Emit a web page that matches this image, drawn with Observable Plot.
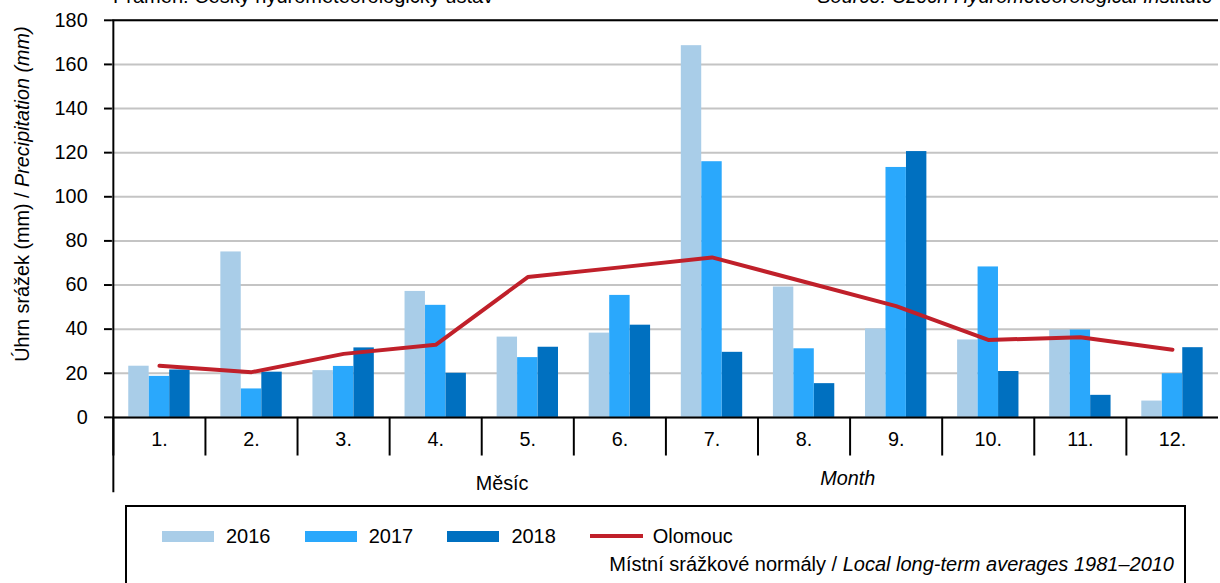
<!DOCTYPE html>
<html>
<head>
<meta charset="utf-8">
<script src="https://cdn.jsdelivr.net/npm/d3@7"></script>
<script src="https://cdn.jsdelivr.net/npm/@observablehq/plot@0.6"></script>
<style>
  html, body { margin: 0; padding: 0; background: #fff; overflow: hidden; }
  #wrap { position: relative; width: 1220px; height: 583px; overflow: hidden; font-family: "Liberation Sans", Arial, sans-serif; color: #000; }
  #chart { position: absolute; left: 0; top: 0; }
  .src { position: absolute; top: -16px; font-size: 20px; line-height: 24px; white-space: nowrap; }
  #legend { position: absolute; left: 125px; top: 505px; width: 1061px; height: 100px; border: 2px solid #000; box-sizing: border-box; font-size: 20px; }
  #legend .row1 { position: absolute; left: 35px; top: 17px; display: flex; align-items: center; height: 24px; }
  #legend .item { width: 142.7px; display: flex; align-items: center; }
  #legend .sw { width: 52px; height: 11px; margin-right: 12px; }
  #legend .ln { width: 55px; height: 4px; margin-right: 10px; }
  #legend .row2 { position: absolute; right: 10px; top: 46px; white-space: nowrap; }
</style>
</head>
<body>
<div id="wrap">
  <div id="chart"></div>
  <div class="src" style="left:113px;">Pramen: Český hydrometeorologický ústav</div>
  <div class="src" style="right:7px;font-style:italic;">Source: Czech Hydrometeorological Institute</div>
  <div id="legend"></div>
</div>
<script>
// ---- data ----
const months = ["1.", "2.", "3.", "4.", "5.", "6.", "7.", "8.", "9.", "10.", "11.", "12."];
const years = ["2016", "2017", "2018"];
const p2016 = [23.2, 75.0, 21.2, 57.1, 36.4, 38.2, 168.5, 59.1, 40.1, 35.1, 39.6, 7.4];
const p2017 = [18.6, 12.9, 23.1, 50.8, 27.1, 55.3, 115.9, 31.1, 113.3, 68.2, 39.6, 19.8];
const p2018 = [21.5, 20.5, 31.5, 20.0, 31.8, 41.8, 29.5, 15.3, 120.5, 20.8, 10.0, 31.6];
const normalOlomouc = [23.4, 20.5, 28.8, 32.9, 63.6, 68.0, 72.5, 61.5, 50.4, 35.1, 36.3, 30.7];
const yTicks = [0, 20, 40, 60, 80, 100, 120, 140, 160, 180];
const yearColors = ["#a9cde8", "#2aa8fc", "#0070c0"];
const normalColor = "#c0202a";
const normalLabel = "Olomouc";

// ---- tidy tables ----
const series = [p2016, p2017, p2018];
const bars = [];
years.forEach((yr, k) => months.forEach((m, i) => bars.push({month: m, year: yr, value: series[k][i]})));
const normals = months.map((m, i) => ({month: m, value: normalOlomouc[i]}));

// ---- layout ----
const W = 1232, H = 505, mL = 113, mR = 2, mT = 20, mB = 84;
const step = (W - mL - mR) / months.length;
const barW = step * 2 / 9;
const inset = (step - barW) / 2;
const frameH = H - mT - mB;

const marks = [
  Plot.gridY({ticks: yTicks, stroke: "#c4c4c4", strokeOpacity: 1, strokeWidth: 2}),
  ...years.map((yr, k) => Plot.barY(bars.filter(d => d.year === yr), {
    x: "month", y: "value", fill: yearColors[k],
    insetLeft: inset, insetRight: inset, dx: (k - 1) * barW
  })),
  Plot.line(normals, {x: "month", y: "value", stroke: normalColor, strokeWidth: 4, strokeLinejoin: "round"}),
  Plot.ruleY([180], {stroke: "#000", strokeWidth: 2}),
  Plot.ruleY([0], {stroke: "#000", strokeWidth: 2}),
  Plot.ruleX(months, {x: d => d, dx: -step / 2, stroke: "#000", strokeWidth: 2, insetTop: frameH, insetBottom: -39}),
  Plot.ruleX([months[0]], {x: d => d, dx: -step / 2, stroke: "#000", strokeWidth: 2, insetBottom: -76}),
  Plot.axisY({ticks: yTicks, tickSize: 8, tickPadding: 17, fontSize: 20, label: null, strokeWidth: 2}),
  Plot.text(months, {x: d => d, text: d => d, frameAnchor: "bottom", dy: 22, fontSize: 20, lineAnchor: "middle"})
];

const svg = Plot.plot({
  width: W, height: H,
  marginLeft: mL, marginRight: mR, marginTop: mT, marginBottom: mB,
  style: {fontFamily: "'Liberation Sans', Arial, sans-serif", fontSize: "20px", color: "#000", background: "transparent", overflow: "visible"},
  x: {type: "band", domain: months, padding: 0, axis: null},
  y: {domain: [0, 180], axis: null},
  marks
});
document.getElementById("chart").appendChild(svg);

// axis titles
const s = d3.select(svg);
const yt = s.append("text")
  .attr("transform", "translate(29,196) rotate(-90)")
  .attr("text-anchor", "middle")
  .attr("font-size", 20);
yt.append("tspan").text("Úhrn srážek (mm) / ");
yt.append("tspan").attr("font-style", "italic").text("Precipitation (mm)");
s.append("text").attr("x", 507).attr("y", 495).attr("text-anchor", "middle").attr("font-size", 20).text("Měsíc");
s.append("text").attr("x", 856).attr("y", 490).attr("text-anchor", "middle").attr("font-size", 20).attr("font-style", "italic").text("Month");

// legend
const lg = d3.select("#legend");
const r1 = lg.append("div").attr("class", "row1");
years.forEach((yr, k) => {
  const it = r1.append("div").attr("class", "item");
  it.append("div").attr("class", "sw").style("background", yearColors[k]);
  it.append("span").text(yr);
});
const it = r1.append("div").attr("class", "item");
it.append("div").attr("class", "ln").style("background", normalColor);
it.append("span").text(normalLabel);
const r2 = lg.append("div").attr("class", "row2");
r2.append("span").text("Místní srážkové normály / ");
r2.append("span").style("font-style", "italic").text("Local long-term averages 1981–2010");
</script>
</body>
</html>
